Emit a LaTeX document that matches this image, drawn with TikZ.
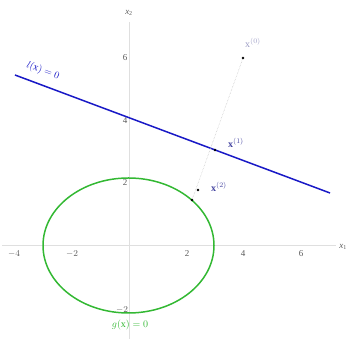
\documentclass[tikz,border=0pt]{standalone}
\usepackage{fontspec}
\setmainfont{Liberation Serif}
\begin{document}
\begin{tikzpicture}[x=1pt,y=1pt,
  axis/.style={draw=gray!25,line width=0.6pt},
  tick/.style={font=\fontsize{9}{10}\selectfont,text=gray!70!black,inner sep=0pt},
  dotpt/.style={circle,fill=black,inner sep=0pt,minimum size=2.6pt},
  ptlab/.style={font=\fontsize{10}{11}\selectfont,text=blue!40!gray!90!black,inner sep=0pt},
  cons/.style={draw=blue!75!black!90!white,line width=1.5pt},
  ineq/.style={draw=green!65!black!80,line width=1.5pt}]
\useasboundingbox (0,0) rectangle (348,347);
% axes
\coordinate (xl) at (2,102);
\coordinate (xr) at (336,102);
\coordinate (yb) at (129,8);
\coordinate (yt) at (129,325);
\draw[axis] (xl) -- (xr);
\draw[axis] (yb) -- (yt);
\node[tick] (ax1) at (343,100) {\textit{x}\textsubscript{1}};
\node[tick] (ax2) at (129,334) {\textit{x}\textsubscript{2}};
% tick labels
\node[tick] (tm4) at (14,93) {$-4$};
\node[tick] (tm2) at (72,93) {$-2$};
\node[tick] (t2) at (187,93) {2};
\node[tick] (t4) at (243,93) {4};
\node[tick] (t6) at (301,93) {6};
\node[tick] (ty6) at (125,289) {6};
\node[tick] (ty4) at (125,226) {4};
\node[tick] (ty2) at (125,164) {2};
\node[tick] (tym2) at (122,37) {$-2$};
% ellipse
\draw[ineq] (128.5,101.5) ellipse [x radius=85.5, y radius=67.5];
\node[font=\fontsize{10}{11}\selectfont,text=green!65!black!80,inner sep=0pt] (glab) at (130,22) {$g(\mathrm{x})=0$};
% constraint line
\coordinate (la) at (15,272);
\coordinate (lb) at (330,154);
\draw[cons] (la) -- (lb);
\node[font=\fontsize{10}{11}\selectfont,text=blue!75!black!90!white,inner sep=0pt,rotate=-20.5] (llab) at (43,276) {$l(\mathrm{x})=0$};
% points
\node[dotpt] (p0) at (243,289) {};
\node[dotpt] (p1) at (215,197) {};
\node[dotpt] (p2) at (198,157) {};
\node[dotpt] (p3) at (192,147) {};
\draw[gray!50,densely dotted,line width=0.5pt] (p0) -- (p3);
\node[ptlab,text=blue!25!gray!60] (l0) at (253,304) {$\mathrm{x}^{(0)}$};
\node[ptlab] (l1) at (236,204) {$\mathbf{x}^{(1)}$};
\node[ptlab] (l2) at (219,160) {$\mathbf{x}^{(2)}$};
\end{tikzpicture}
\end{document}
